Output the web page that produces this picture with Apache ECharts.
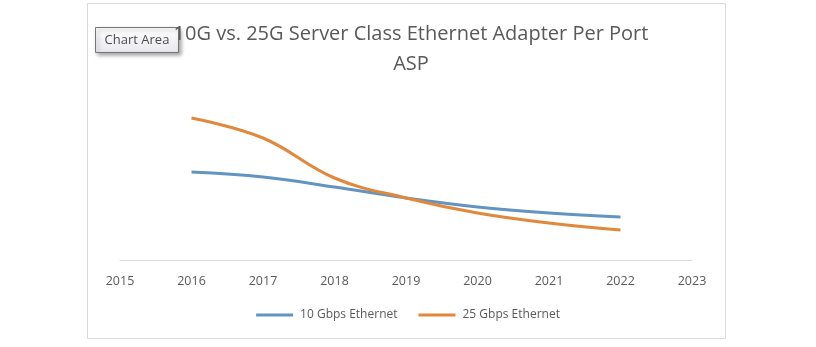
<!DOCTYPE html>
<html>
<head>
<meta charset="utf-8">
<script src="https://cdn.jsdelivr.net/npm/echarts@6/dist/echarts.min.js"></script>
<style>
  html, body { margin: 0; padding: 0; background: #fff; }
  #main { width: 816px; height: 347px; }
</style>
</head>
<body>
<div id="main"></div>
<script>
// years on the category axis
var years = ['2015', '2016', '2017', '2018', '2019', '2020', '2021', '2022', '2023'];
// per port ASP (relative units)
var gbe10 = [null, 88, 83, 73, 62, 53, 47, 43, null];
var gbe25 = [null, 142, 122, 82, 62, 47, 37, 30, null];
var seriesNames = ['10 Gbps Ethernet', '25 Gbps Ethernet'];

var chart = echarts.init(document.getElementById('main'));

var option = {
  animation: false,
  title: {
    text: '10G vs. 25G Server Class Ethernet Adapter Per Port\nASP',
    left: 406,
    textAlign: 'center',
    top: 14,
    textStyle: {
      fontFamily: 'Open Sans',
      fontSize: 20,
      fontWeight: 'normal',
      color: '#595959',
      lineHeight: 30
    }
  },
  legend: {
    top: 304,
    left: 'center',
    itemWidth: 37,
    itemHeight: 3,
    itemGap: 21,
    icon: 'rect',
    textStyle: { fontFamily: 'Open Sans', fontSize: 12, color: '#595959', padding: [0, 0, 0, 2] },
    data: seriesNames
  },
  grid: {
    left: 120,
    right: 124,
    top: 80,
    bottom: 87
  },
  xAxis: {
    type: 'category',
    boundaryGap: false,
    data: years,
    axisLine: { lineStyle: { color: '#d9d9d9', width: 1 } },
    axisTick: { show: false },
    axisLabel: { fontFamily: 'Open Sans', fontSize: 12.5, color: '#595959', margin: 15 }
  },
  yAxis: {
    type: 'value',
    min: 0,
    max: 180,
    show: false,
    splitLine: { show: false }
  },
  series: [
    {
      name: seriesNames[0],
      type: 'line',
      smooth: 0.4,
      showSymbol: false,
      data: gbe10,
      itemStyle: { color: '#6194c0' },
      lineStyle: { color: '#6194c0', width: 3 }
    },
    {
      name: seriesNames[1],
      type: 'line',
      smooth: 0.4,
      showSymbol: false,
      data: gbe25,
      itemStyle: { color: '#e0883c' },
      lineStyle: { color: '#e0883c', width: 3 }
    }
  ],
  graphic: [
    {
      // chart area border
      type: 'rect',
      shape: { x: 87.5, y: 3.5, width: 638, height: 335 },
      style: { fill: 'none', stroke: '#d9d9d9', lineWidth: 1 },
      z: 1
    },
    {
      // "Chart Area" hover tip
      type: 'group',
      left: 95,
      top: 27,
      z: 100,
      children: [
        {
          type: 'rect',
          shape: { x: 0, y: 0, width: 83, height: 25 },
          style: {
            fill: new echarts.graphic.LinearGradient(0, 0, 0, 1, [
              { offset: 0, color: '#ffffff' },
              { offset: 1, color: '#e8e8ee' }
            ]),
            stroke: '#767676',
            lineWidth: 1,
            shadowBlur: 4,
            shadowOffsetX: 2,
            shadowOffsetY: 2,
            shadowColor: 'rgba(0,0,0,0.35)'
          }
        },
        {
          type: 'text',
          x: 41.5,
          y: 12.5,
          style: {
            text: 'Chart Area',
            align: 'center',
            verticalAlign: 'middle',
            fontFamily: 'Open Sans',
            fontSize: 13,
            fill: '#4d4d4d'
          }
        }
      ]
    }
  ]
};

chart.setOption(option);
</script>
</body>
</html>
